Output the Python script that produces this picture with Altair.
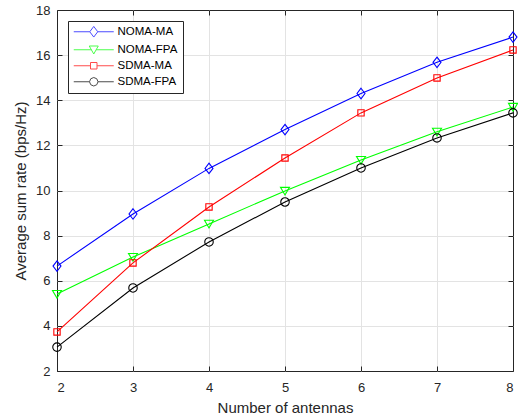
import altair as alt
import pandas as pd

antennas = [2, 3, 4, 5, 6, 7, 8]
noma_ma = [6.65, 8.96, 10.98, 12.70, 14.30, 15.68, 16.80]
noma_fpa = [5.41, 7.05, 8.52, 9.98, 11.35, 12.60, 13.70]
sdma_ma = [3.73, 6.79, 9.27, 11.44, 13.44, 14.99, 16.23]
sdma_fpa = [3.06, 5.68, 7.72, 9.49, 11.00, 12.33, 13.44]

series_names = ["NOMA-MA", "NOMA-FPA", "SDMA-MA", "SDMA-FPA"]
series_values = [noma_ma, noma_fpa, sdma_ma, sdma_fpa]
series_colors = ["#0000ff", "#00ff00", "#ff0000", "#000000"]

x_ticks = [2, 3, 4, 5, 6, 7, 8]
y_ticks = [2, 4, 6, 8, 10, 12, 14, 16, 18]
x_grid = [3, 4, 5, 6, 7]
y_grid = [4, 6, 8, 10, 12, 14, 16]

# marker shapes (plot) and sizes
marker_paths = [
    "M0,-1L0.76,0L0,1L-0.76,0Z",
    "M-1,-0.8L1,-0.8L0,0.9Z",
    "square",
    "circle",
]
marker_sizes = [110, 81, 40, 72]

# legend symbols: line + marker combined; 1 unit = 5 px (symbolSize 100)
legend_paths = [
    "M-1,0L2.2,0M3.8,0L7,0M3,-1.06L3.8,0L3,1.06L2.2,0Z",
    "M-1,0L2.55,0M3.45,0L7,0M2.1,-0.75L3.9,-0.75L3,0.85Z",
    "M-1,0L2.35,0M3.65,0L7,0M2.35,-0.65L3.65,-0.65L3.65,0.65L2.35,0.65Z",
    "M-1,0L2.15,0M3.85,0L7,0M2.15,0L2.4,-0.6L3,-0.85L3.6,-0.6L3.85,0L3.6,0.6L3,0.85L2.4,0.6Z",
]

rows = []
for name, vals in zip(series_names, series_values):
    for a, v in zip(antennas, vals):
        rows.append({"antennas": a, "rate": v, "series": name})
df = pd.DataFrame(rows)

FONT = "Liberation Sans"
AX = "#262626"

x_scale = alt.Scale(domain=[2, 8], nice=False, zero=False)
y_scale = alt.Scale(domain=[2, 18], nice=False, zero=False)
color_scale = alt.Scale(domain=series_names, range=series_colors)

x_enc = alt.X(
    "antennas:Q", scale=x_scale,
    axis=alt.Axis(values=x_ticks, title="Number of antennas", offset=-5, tickSize=5,
                  domain=False, grid=False, labelPadding=10, titlePadding=6, format="d"),
)
y_enc = alt.Y(
    "rate:Q", scale=y_scale,
    axis=alt.Axis(values=y_ticks, title="Average sum rate (bps/Hz)", offset=-5, tickSize=5,
                  domain=False, grid=False, labelPadding=7, titlePadding=7, format="d"),
)

base = alt.Chart(df).encode(x=x_enc, y=y_enc)

series_layers = []
for name, path, size, col in zip(series_names, marker_paths, marker_sizes, series_colors):
    sub = base.transform_filter(alt.datum.series == name)
    series_layers.append(sub.mark_line(strokeWidth=1.1, color=col))
    series_layers.append(
        sub.mark_point(shape=path, size=size, filled=False, strokeWidth=1.1, color=col, opacity=1)
    )

leg = alt.Legend(
    title=None, orient="none", legendX=11, legendY=11,
    fillColor="white", strokeColor=AX, padding=5, cornerRadius=0,
    labelFont=FONT, labelFontSize=11.5, labelColor="#000000", labelOffset=33,
    symbolSize=100, symbolStrokeWidth=1, rowPadding=3, labelLimit=300,
)

legend_layer = base.mark_point(filled=False, strokeWidth=1, size=0).encode(
    color=alt.Color("series:N", scale=color_scale, legend=leg),
    shape=alt.Shape("series:N", scale=alt.Scale(domain=series_names, range=legend_paths), legend=leg),
)

main = alt.layer(*series_layers, legend_layer)

dummy = alt.Chart(df).mark_point(opacity=0).encode(
    x=alt.X("antennas:Q", scale=x_scale,
            axis=alt.Axis(orient="top", values=x_grid, labels=False, domain=False, grid=True,
                          tickSize=5, offset=-5, title=None)),
    y=alt.Y("rate:Q", scale=y_scale,
            axis=alt.Axis(orient="right", values=y_grid, labels=False, domain=False, grid=True,
                          tickSize=5, offset=-5, title=None)),
)

chart = alt.layer(dummy, main).resolve_scale(x="independent", y="independent").properties(
    width=456, height=361,
    autosize="none",
    padding={"left": 57, "top": 10, "right": 5, "bottom": 47},
    background="white",
).configure_view(
    stroke=AX, strokeWidth=1
).configure_axis(
    labelFont=FONT, labelFontSize=13, labelColor=AX,
    titleFont=FONT, titleFontSize=15, titleFontWeight="normal", titleColor=AX,
    tickColor=AX, tickWidth=1, gridColor="#e3e3e3", gridWidth=1,
)

chart.save("out.html", embed_options={"renderer": "svg", "actions": False})
